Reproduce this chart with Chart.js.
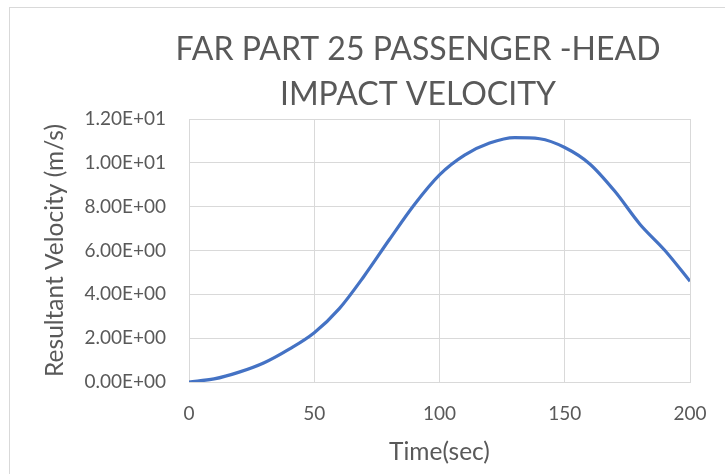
<!DOCTYPE html>
<html>
<head>
<meta charset="utf-8">
<script src="https://cdn.jsdelivr.net/npm/chart.js@4/dist/chart.umd.min.js"></script>
<style>
  html, body { margin: 0; padding: 0; background: #ffffff; overflow: hidden; width: 725px; height: 474px; }
  #frame { position: absolute; left: 9px; top: 7px; width: 900px; height: 600px;
           border-left: 1px solid #d9d9d9; border-top: 1px solid #d9d9d9; }
  #wrap { position: absolute; left: 0; top: 0; width: 836px; height: 474px; }
</style>
</head>
<body>
<div id="frame"></div>
<div id="wrap"><canvas id="c" width="836" height="474"></canvas></div>
<script>
// Data
const timeSec = [0, 10, 20, 30, 40, 50, 60, 70, 80, 90, 100, 110, 120, 130, 140, 150, 160, 170, 180, 190, 200];
const velocity = [0, 0.14, 0.45, 0.88, 1.5, 2.25, 3.35, 4.85, 6.5, 8.1, 9.45, 10.35, 10.9, 11.15, 11.1, 10.7, 9.95, 8.7, 7.2, 6.0, 4.6];
const titleLines = ['FAR PART 25 PASSENGER -HEAD', 'IMPACT VELOCITY'];
const xAxisTitle = 'Time(sec)';
const yAxisTitle = 'Resultant Velocity (m/s)';
const xTicks = [0, 50, 100, 150, 200];
const yTicks = [0, 2, 4, 6, 8, 10, 12];

function sci(v) {
  if (v === 0) return '0.00E+00';
  const e = Math.floor(Math.log10(Math.abs(v)) + 1e-9);
  const m = v / Math.pow(10, e);
  const sign = e < 0 ? '-' : '+';
  const ea = Math.abs(e);
  return m.toFixed(2) + 'E' + sign + (ea < 10 ? '0' + ea : String(ea));
}

const points = timeSec.map((t, i) => ({ x: t, y: velocity[i] }));
const FONT = 'Lato, "Open Sans", sans-serif';
const TXT = '#595959';
const GRID = '#d9d9d9';

new Chart(document.getElementById('c'), {
  type: 'line',
  data: {
    datasets: [{
      data: points,
      borderColor: '#4472C4',
      borderWidth: 3.2,
      pointRadius: 0,
      fill: false,
      cubicInterpolationMode: 'monotone',
      yAxisID: 'y',
      xAxisID: 'x'
    }]
  },
  options: {
    responsive: false,
    animation: false,
    events: [],
    layout: { padding: 0 },
    plugins: {
      legend: { display: false },
      tooltip: { enabled: false },
      title: {
        display: true,
        text: titleLines,
        color: TXT,
        font: { family: FONT, size: 32, weight: 'normal', lineHeight: 1.4 },
        padding: { top: 27, bottom: 2.4 }
      }
    },
    scales: {
      x: {
        type: 'linear',
        min: xTicks[0],
        max: xTicks[xTicks.length - 1],
        afterBuildTicks: s => { s.ticks = xTicks.map(v => ({ value: v })); },
        afterFit: s => { s.height = 92; },
        grid: { color: GRID, lineWidth: 1, drawTicks: false },
        border: { display: true, color: GRID, width: 1 },
        ticks: { color: TXT, font: { family: FONT, size: 19 }, padding: 20, maxRotation: 0 },
        title: {
          display: true, text: xAxisTitle, color: TXT,
          font: { family: FONT, size: 24.5 }, padding: { top: 8, bottom: 7.3 }
        }
      },
      y: {
        type: 'linear',
        position: 'left',
        min: yTicks[0],
        max: yTicks[yTicks.length - 1],
        afterBuildTicks: s => { s.ticks = yTicks.map(v => ({ value: v })); },
        afterFit: s => { s.width = 189; },
        grid: { color: GRID, lineWidth: 1, drawTicks: false },
        border: { display: true, color: GRID, width: 1 },
        ticks: { color: TXT, font: { family: FONT, size: 19 }, padding: 23, callback: v => sci(v) },
        title: {
          display: true, text: yAxisTitle, color: TXT,
          font: { family: FONT, size: 24.5 }, padding: { top: 40.3, bottom: 4 }
        }
      },
      spacer: {
        type: 'linear',
        position: 'right',
        display: true,
        grid: { display: false, drawTicks: false },
        border: { display: false },
        ticks: { display: false },
        afterFit: s => { s.width = 146; }
      }
    }
  }
});
</script>
</body>
</html>
